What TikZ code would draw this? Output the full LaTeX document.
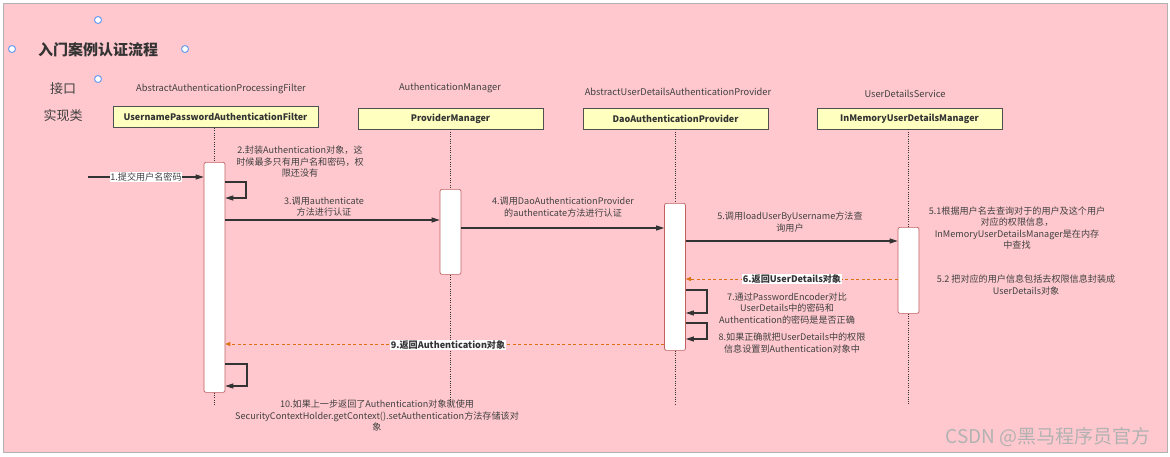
\documentclass[tikz,border=0pt]{standalone}
\usepackage{fontspec}
\setmainfont{Noto Sans CJK SC}
\usetikzlibrary{arrows.meta}
\definecolor{bgpink}{HTML}{FFC8CE}
\definecolor{txt}{HTML}{404040}
\definecolor{barred}{HTML}{C06060}
\definecolor{boxfill}{HTML}{FFFFC0}
\definecolor{boxline}{HTML}{505050}
\definecolor{ln}{HTML}{333333}
\definecolor{orng}{HTML}{DD7010}
\definecolor{hblue}{HTML}{6A9CF0}
\tikzset{
  lbl/.style={text=txt, font=\fontsize{9.1}{11.5}\selectfont, align=center, inner sep=1pt},
  blbl/.style={text=ln, font=\fontsize{9.1}{11.5}\selectfont\bfseries, fill=white, inner sep=1pt},
  ifc/.style={text=txt, font=\fontsize{9.3}{11}\selectfont, inner sep=1pt},
  cls/.style={draw=boxline, fill=boxfill, line width=0.8pt, minimum height=21pt, inner sep=0pt, text=ln, font=\fontsize{9}{11}\selectfont\bfseries},
  actbar/.style={draw=barred, fill=white, line width=0.7pt, rounded corners=2pt, minimum width=21pt, inner sep=0pt, anchor=north},
  life/.style={draw=ln, line width=1pt, dash pattern=on 1pt off 1.3pt},
  msg/.style={draw=ln, line width=1.1pt, -{Triangle[length=8pt,width=5pt]}},
  ret/.style={draw=orng, line width=0.8pt, dash pattern=on 3pt off 2.5pt, -{Triangle[length=5pt,width=4pt]}},
  handle/.style={draw=hblue, fill=white, line width=1pt, circle, minimum size=7pt, inner sep=0pt},
}
\begin{document}
\begin{tikzpicture}[x=1pt,y=-1pt]
\useasboundingbox (0,0) rectangle (1170,456);
\fill[white] (0,0) rectangle (1170,456);
\draw[fill=bgpink, draw=gray!60, line width=1pt] (3.5,3) rectangle (1167,452);

% title and handles
\node[text=ln, font=\fontsize{15}{18}\selectfont\bfseries, anchor=west, inner sep=0pt] (title) at (38,50) {入门案例认证流程};
\node[handle] (hA) at (98,20) {};
\node[handle] (hB) at (12,49) {};
\node[handle] (hC) at (185,49) {};
\node[handle] (hD) at (98,79) {};

\node[text=txt, font=\fontsize{13}{15}\selectfont, inner sep=0pt] (jk) at (63,89) {接口};
\node[text=txt, font=\fontsize{13}{15}\selectfont, inner sep=0pt] (sxl) at (63,116) {实现类};

% interfaces
\node[ifc] (i1) at (221,89) {AbstractAuthenticationProcessingFilter};
\node[ifc] (i2) at (450,88) {AuthenticationManager};
\node[ifc] (i3) at (678,92) {AbstractUserDetailsAuthenticationProvider};
\node[ifc] (i4) at (905,94) {UserDetailsService};

% classes
\node[cls, minimum width=205pt] (c1) at (215.5,117) {UsernamePasswordAuthenticationFilter};
\node[cls, minimum width=185pt] (c2) at (450.5,118.5) {ProviderManager};
\node[cls, minimum width=185pt] (c3) at (675.5,118.5) {DaoAuthenticationProvider};
\node[cls, minimum width=185pt] (c4) at (909.5,118.5) {InMemoryUserDetailsManager};

% activation bars
\node[actbar, minimum height=230pt] (b1) at (214.5,162) {};
\node[actbar, minimum height=85pt] (b2) at (450.5,189) {};
\node[actbar, minimum height=147pt] (b3) at (675,203) {};
\node[actbar, minimum height=86pt] (b4) at (908.5,227) {};

% lifeline ends
\coordinate (e1) at (214.5,405);
\coordinate (e2) at (450.5,404);
\coordinate (e3) at (675,404);
\coordinate (e4) at (908.5,404);

\draw[life] (c1.south -| b1) -- (b1.north);
\draw[life] (b1.south) -- (e1);
\draw[life] (c2.south -| b2) -- (b2.north);
\draw[life] (b2.south) -- (e2);
\draw[life] (c3.south -| b3) -- (b3.north);
\draw[life] (b3.south) -- (e3);
\draw[life] (c4.south -| b4) -- (b4.north);
\draw[life] (b4.south) -- (e4);

% 1
\coordinate (s1) at (88,177);
\draw[msg] (s1) -- (b1.west |- s1);
\node[lbl, fill=white, inner sep=0.5pt] (l1) at (146,177) {1.提交用户名密码};

% 2 self
\draw[msg] (b1.east |- 0,182) -| (246,198) -- (b1.east |- 0,198);
\node[lbl] (l2) at (300,162) {2.封装Authentication对象，这\\时候最多只有用户名和密码，权\\限还没有};

% 3
\draw[msg] (b1.east |- 0,220) -- (b2.west |- 0,220);
\node[lbl] (l3) at (324,206.5) {3.调用authenticate\\方法进行认证};

% 4
\draw[msg] (b2.east |- 0,228) -- (b3.west |- 0,228);
\node[lbl] (l4) at (563,207) {4.调用DaoAuthenticationProvider\\的authenticate方法进行认证};

% 5
\draw[msg] (b3.east |- 0,241) -- (b4.west |- 0,241);
\node[lbl] (l5) at (790,222) {5.调用loadUserByUsername方法查\\询用户};

\node[lbl] (l51) at (1017,228) {5.1根据用户名去查询对于的用户及这个用户\\对应的权限信息，\\InMemoryUserDetailsManager是在内存\\中查找};

% 6
\draw[ret] (b4.west |- 0,279) -- (b3.east |- 0,279);
\node[blbl] (l6) at (792,279) {6.返回UserDetails对象};

\node[lbl] (l52) at (1026,285) {5.2 把对应的用户信息包括去权限信息封装成\\UserDetails对象};

% 7 self
\draw[msg] (b3.east |- 0,290) -| (707,313) -- (b3.east |- 0,313);
\node[lbl] (l7) at (787,308.5) {7.通过PasswordEncoder对比\\UserDetails中的密码和\\Authentication的密码是是否正确};

% 8 self
\draw[msg] (b3.east |- 0,323) -| (707,339) -- (b3.east |- 0,339);
\node[lbl] (l8) at (792,343) {8.如果正确就把UserDetails中的权限\\信息设置到Authentication对象中};

% 9
\draw[ret] (b3.west |- 0,344) -- (b1.east |- 0,344);
\node[blbl] (l9) at (448,345) {9.返回Authentication对象};

% 10 self
\draw[msg] (b1.east |- 0,364) -| (247,386) -- (b1.east |- 0,386);
\node[lbl] (l10) at (377,415.5) {10.如果上一步返回了Authentication对象就使用\\SecurityContextHolder.getContext().setAuthentication方法存储该对\\象};

% watermark
\node[text=gray!60, font=\fontsize{19}{21}\selectfont, inner sep=0pt] (wm) at (1048,437) {CSDN @黑马程序员官方};
\end{tikzpicture}
\end{document}
